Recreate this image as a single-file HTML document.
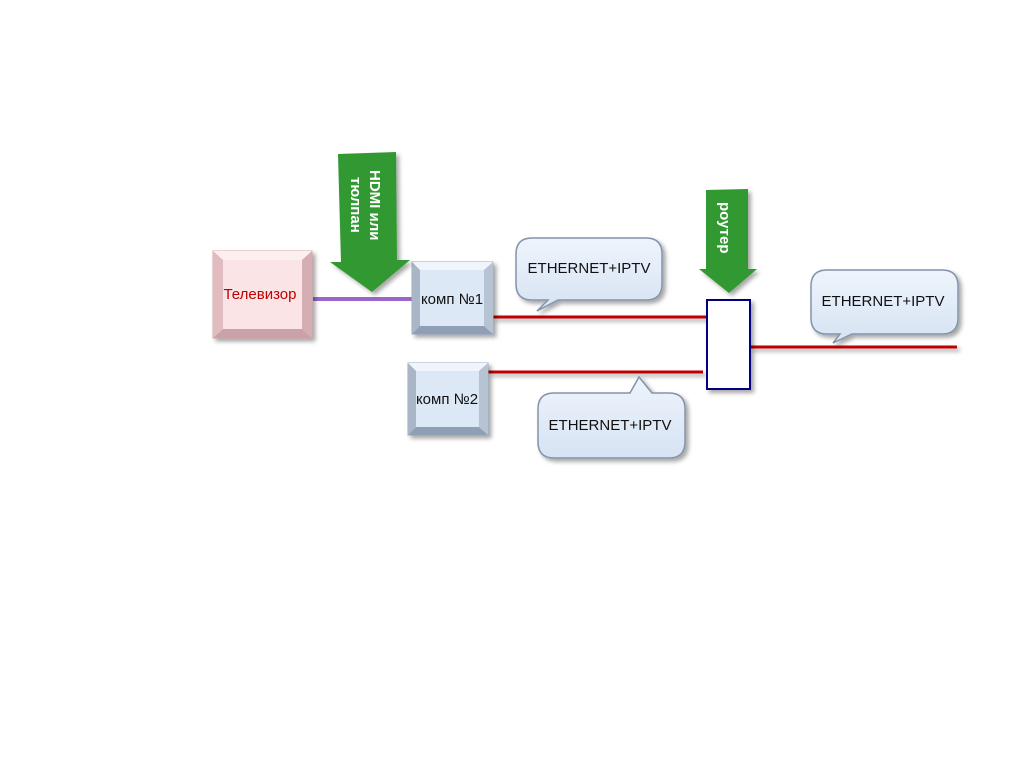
<!DOCTYPE html>
<html><head><meta charset="utf-8"><style>body{margin:0;background:#fff}svg{display:block}</style></head><body>
<svg width="1024" height="768" xmlns="http://www.w3.org/2000/svg" font-family="Liberation Sans, sans-serif">
<defs>
<filter id="sh" x="-20%" y="-20%" width="150%" height="150%"><feDropShadow dx="3" dy="3" stdDeviation="2" flood-color="#000" flood-opacity="0.35"/></filter>
<linearGradient id="bub" x1="0" y1="0" x2="0" y2="1"><stop offset="0" stop-color="#eef4fc"/><stop offset="1" stop-color="#d6e3f3"/></linearGradient>
</defs>
<line x1="313" y1="299" x2="412" y2="299" stroke="#9966cc" stroke-width="4"/>
<g filter="url(#sh)">
<line x1="493" y1="317" x2="707" y2="317" stroke="#c00000" stroke-width="3"/>
<line x1="488" y1="372" x2="703" y2="372" stroke="#c00000" stroke-width="3"/>
<line x1="750" y1="347" x2="957" y2="347" stroke="#c00000" stroke-width="3"/>
</g>
<g filter="url(#sh)">
<rect x="213" y="251" width="99" height="87" fill="#f6e0e2" stroke="#d8a8ad"/>
<polygon points="213,251 312,251 302,260 223,260" fill="#fbeff0"/>
<polygon points="213,251 223,260 223,329 213,338" fill="#e0bcc0"/>
<polygon points="312,251 302,260 302,329 312,338" fill="#d4aeb2"/>
<polygon points="213,338 223,329 302,329 312,338" fill="#c9a1a6"/>
<rect x="223" y="260" width="79" height="69" fill="#fbe4e6"/>
</g>
<text x="260" y="299" font-size="15" fill="#c00000" text-anchor="middle">Телевизор</text>
<g filter="url(#sh)">
<rect x="412" y="262" width="81" height="72" fill="#dbe5f2" stroke="#9aaec8"/>
<polygon points="412,262 493,262 484,270 420,270" fill="#f1f5fb"/>
<polygon points="412,262 420,270 420,326 412,334" fill="#a8b6c8"/>
<polygon points="493,262 484,270 484,326 493,334" fill="#b6c3d3"/>
<polygon points="412,334 420,326 484,326 493,334" fill="#8fa0b6"/>
<rect x="420" y="270" width="64" height="56" fill="#dde8f6"/>
<rect x="408" y="363" width="80" height="72" fill="#dbe5f2" stroke="#9aaec8"/>
<polygon points="408,363 488,363 479,371 416,371" fill="#f1f5fb"/>
<polygon points="408,363 416,371 416,427 408,435" fill="#a8b6c8"/>
<polygon points="488,363 479,371 479,427 488,435" fill="#b6c3d3"/>
<polygon points="408,435 416,427 479,427 488,435" fill="#8fa0b6"/>
<rect x="416" y="371" width="63" height="56" fill="#dde8f6"/>
</g>
<text x="452" y="304" font-size="15" fill="#111" text-anchor="middle">комп №1</text>
<text x="447" y="404" font-size="15" fill="#111" text-anchor="middle">комп №2</text>
<rect x="707" y="300" width="43" height="89" fill="#fff" stroke="#000080" stroke-width="2" filter="url(#sh)"/>
<g filter="url(#sh)">
<polygon points="338,154 396,152 397,260 410,260 372,292 330,262 341,262" fill="#339933"/>
<polygon points="706,190 748,189 748,269 757,269 729,293 699,269 706,269" fill="#339933"/>
</g>
<text transform="translate(370,170) rotate(90)" font-size="15" font-weight="bold" fill="#fff">HDMI или</text>
<text transform="translate(351,177) rotate(90)" font-size="15" font-weight="bold" fill="#fff">тюлпан</text>
<text transform="translate(720,202) rotate(90)" font-size="15" font-weight="bold" fill="#fff">роутер</text>
<g filter="url(#sh)" fill="url(#bub)" stroke="#8393aa" stroke-width="1.5">
<path d="M532,238 H646 Q662,238 662,254 V284 Q662,300 646,300 H558 L537,311 L548,300 H532 Q516,300 516,284 V254 Q516,238 532,238 Z"/>
<path d="M827,270 H942 Q958,270 958,286 V318 Q958,334 942,334 H852 L833,343 L840,334 H827 Q811,334 811,318 V286 Q811,270 827,270 Z"/>
<path d="M554,393 H630 L639,377 L652,393 H669 Q685,393 685,409 V442 Q685,458 669,458 H554 Q538,458 538,442 V409 Q538,393 554,393 Z"/>
</g>
<g font-size="15" fill="#111" text-anchor="middle">
<text x="589" y="273">ETHERNET+IPTV</text>
<text x="883" y="306">ETHERNET+IPTV</text>
<text x="610" y="430">ETHERNET+IPTV</text>
</g>
</svg>
</body></html>
